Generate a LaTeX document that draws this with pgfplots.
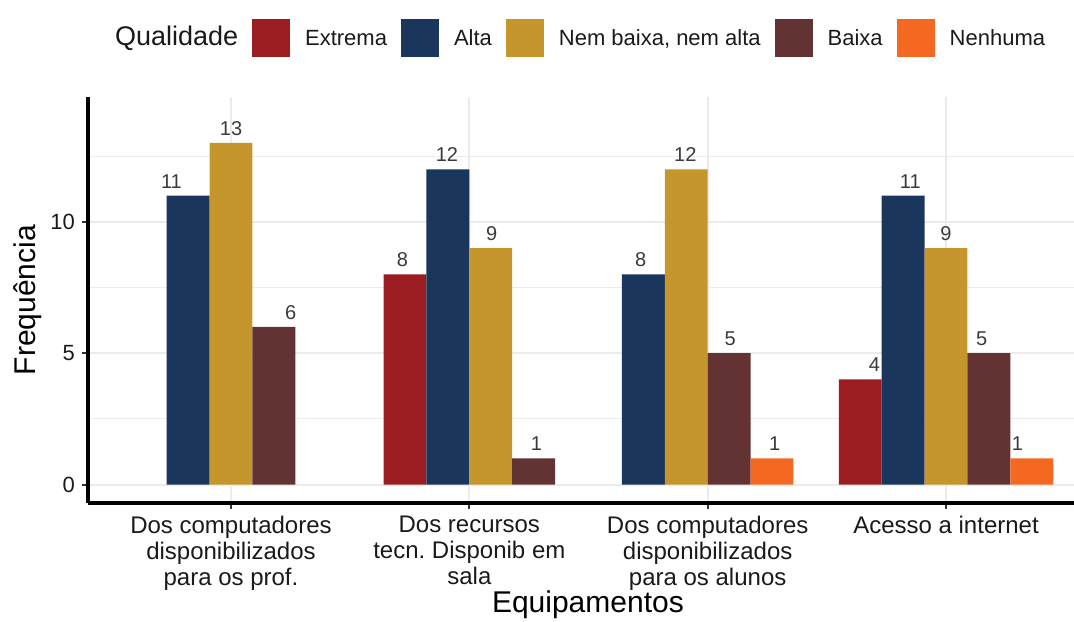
\documentclass[border=0pt]{standalone}
\usepackage{fontspec}
\setmainfont{Liberation Sans}
\usepackage{pgfplots}
\pgfplotsset{compat=1.18}
\definecolor{cExt}{HTML}{9B1D22}
\definecolor{cAlta}{HTML}{1B365D}
\definecolor{cNem}{HTML}{C5962C}
\definecolor{cBaixa}{HTML}{633232}
\definecolor{cNen}{HTML}{F56822}
\definecolor{gridc}{HTML}{EBEBEB}
\definecolor{txt}{HTML}{1A1A1A}
\definecolor{lbl}{HTML}{3A3A3A}
\definecolor{tickc}{HTML}{333333}
\frenchspacing
\begin{document}
\begin{tikzpicture}
\pgfplotsset{sqleg/.style={legend image code/.code={\fill[##1] (0pt,-5.6pt) rectangle (19pt,13.4pt);}}}
\begin{axis}[
  name=ax,
  scale only axis,
  width=493pt, height=203pt,
  xmin=-0.6, xmax=3.537,
  ymin=-0.7, ymax=14.75,
  axis lines*=left,
  axis line style={line width=1.6pt, black},
  tick align=outside,
  major tick length=3pt,
  minor tick length=0pt,
  tick style={line width=1pt, color=tickc},
  xtick={0,1,2,3},
  xticklabels={{Dos computadores\\disponibilizados\\para os prof.},{Dos recursos\\tecn. Disponib em\\sala},{Dos computadores\\disponibilizados\\para os alunos},{Acesso a internet}},
  ytick={0,5,10},
  minor ytick={2.5,7.5,12.5},
  xmajorgrids, ymajorgrids, yminorgrids,
  major grid style={gridc, line width=1pt},
  minor grid style={gridc, line width=0.5pt},
  /pgf/number format/assume math mode=true,
  yticklabel style={font=\fontsize{11}{13}\selectfont, color=txt},
  xticklabel style={font=\fontsize{12}{13}\selectfont, align=center, color=txt},
  xlabel={Equipamentos}, ylabel={Frequência},
  xlabel style={at={(axis description cs:0.507,-0.251)}, anchor=center, font=\fontsize{15}{18}\selectfont, color=black},
  ylabel style={at={(axis description cs:-0.0609,0.5)}, anchor=center, font=\fontsize{15}{18}\selectfont, color=black},
  legend columns=-1,
  legend style={at={(axis description cs:0,1)}, anchor=west, xshift=6pt, yshift=29.5pt,
    draw=none, fill=none, inner sep=0pt, outer sep=0pt,
    font=\fontsize{11}{13}\selectfont, text=txt,
    cells={anchor=base west}, nodes={inner xsep=0pt},
    /tikz/every odd column/.style={column sep=7.5pt},
    /tikz/every even column/.style={column sep=7pt}},
]
\addlegendimage{empty legend}
\addlegendentry{\fontsize{13.5}{16}\selectfont Qualidade\hspace{-3.5pt}}
\addplot[ybar, bar width=0.18, bar shift=0pt, fill=cExt, draw=none, sqleg] coordinates {(0.73,8) (2.64,4)};
\addlegendentry{Extrema}
\addplot[ybar, bar width=0.18, bar shift=0pt, fill=cAlta, draw=none, sqleg] coordinates {(-0.18,11) (0.91,12) (1.73,8) (2.82,11)};
\addlegendentry{Alta}
\addplot[ybar, bar width=0.18, bar shift=0pt, fill=cNem, draw=none, sqleg] coordinates {(0,13) (1.09,9) (1.91,12) (3,9)};
\addlegendentry{Nem baixa, nem alta}
\addplot[ybar, bar width=0.18, bar shift=0pt, fill=cBaixa, draw=none, sqleg] coordinates {(0.18,6) (1.27,1) (2.09,5) (3.18,5)};
\addlegendentry{Baixa}
\addplot[ybar, bar width=0.18, bar shift=0pt, fill=cNen, draw=none, sqleg] coordinates {(2.27,1) (3.36,1)};
\addlegendentry{Nenhuma}
\addplot[draw=none, mark=none, forget plot, nodes near coords, point meta=explicit symbolic,
  every node near coord/.append style={anchor=base, yshift=3.75pt, inner sep=0pt, font=\fontsize{10}{12}\selectfont, color=lbl}]
  coordinates {
  (-0.25,11) [11] (0,13) [13] (0.25,6) [6]
  (0.719,8) [8] (0.906,12) [12] (1.094,9) [9] (1.281,1) [1]
  (1.719,8) [8] (1.906,12) [12] (2.094,5) [5] (2.281,1) [1]
  (2.7,4) [4] (2.85,11) [11] (3,9) [9] (3.15,5) [5] (3.3,1) [1]
  };
\end{axis}
\pgfresetboundingbox
\path[use as bounding box] ([xshift=-44pt,yshift=-59pt]ax.south west) rectangle ([yshift=48.5pt]ax.north east);
\end{tikzpicture}
\end{document}
